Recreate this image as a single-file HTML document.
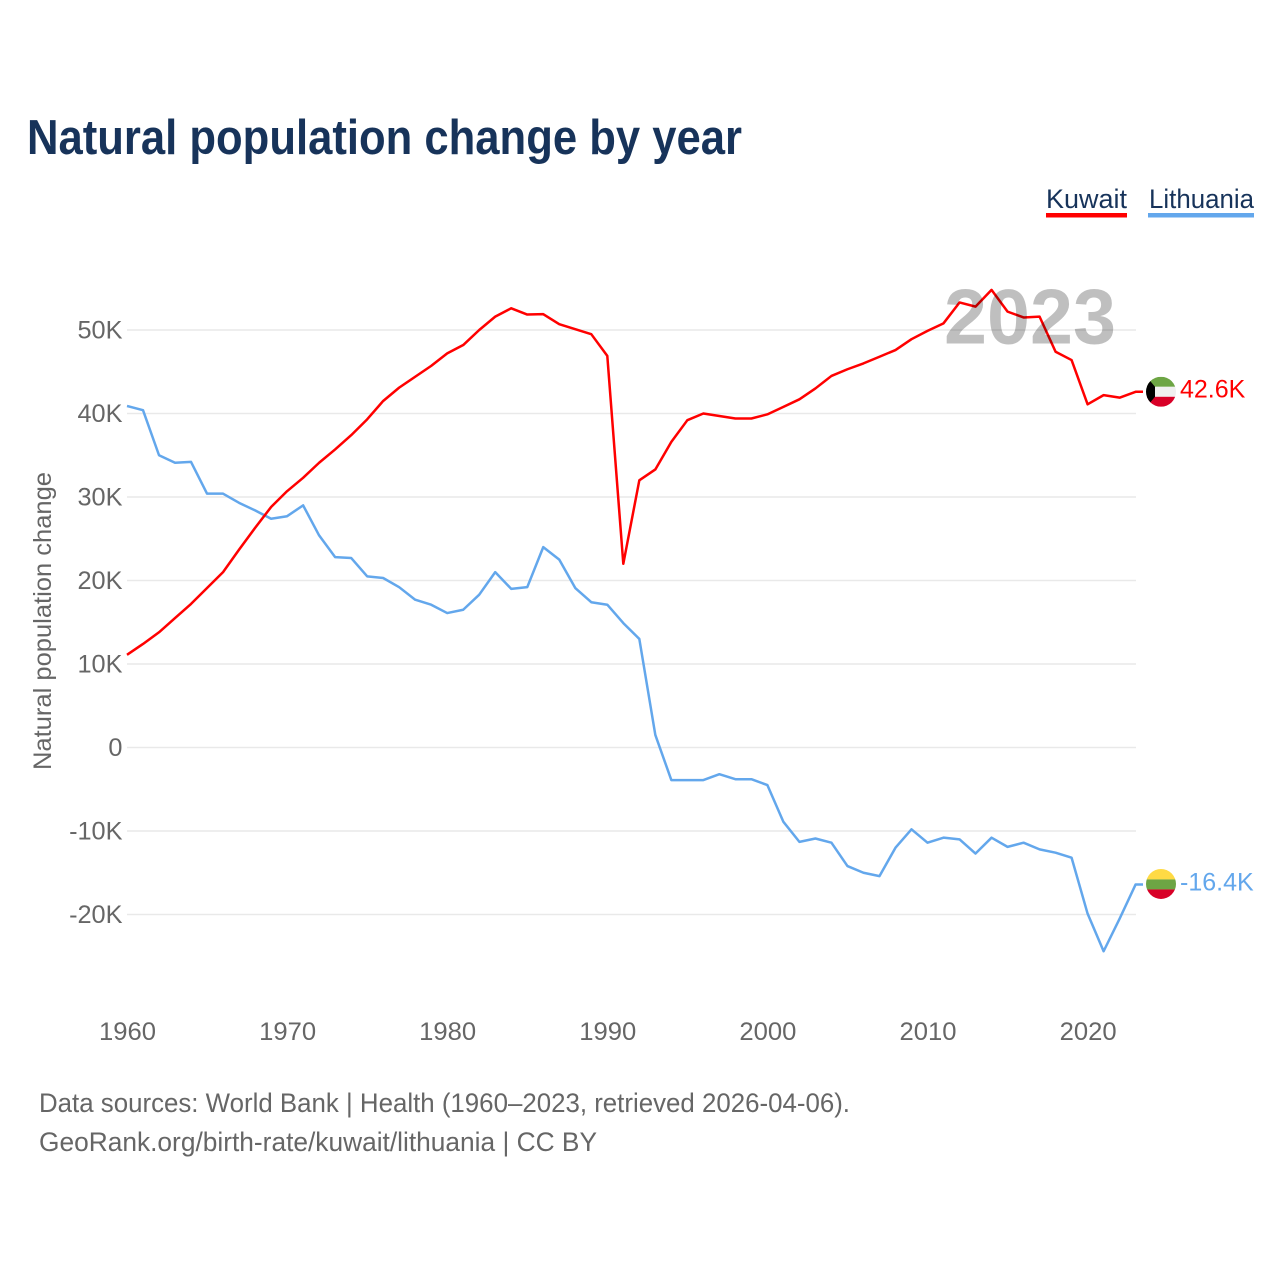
<!DOCTYPE html>
<html lang="en">
<head>
<meta charset="utf-8">
<title>Natural population change by year</title>
<style>
  html, body { margin: 0; padding: 0; background: #ffffff; }
  svg { display: block; font-family: "Liberation Sans", sans-serif; }
</style>
</head>
<body>
<svg id="chart" width="1280" height="1280" viewBox="0 0 1280 1280" xmlns="http://www.w3.org/2000/svg">
  <defs>
    <clipPath id="flag-clip-kw"><circle id="clip-kw" r="15"></circle></clipPath>
    <clipPath id="flag-clip-lt"><circle id="clip-lt" r="15"></circle></clipPath>
  </defs>
  <rect x="0" y="0" width="1280" height="1280" fill="#ffffff"></rect>
  <text x="27" y="154" font-size="49" font-weight="700" fill="#17335a" textLength="715" lengthAdjust="spacingAndGlyphs">Natural population change by year</text>

  <g>
    <g>
      <text x="1046" y="208" font-size="27" fill="#17335a" textLength="81" lengthAdjust="spacingAndGlyphs">Kuwait</text>
      <rect x="1046" y="213" width="81" height="4.5" fill="#ff0000"></rect>
    </g>
    <g>
      <text x="1149" y="208" font-size="27" fill="#17335a" textLength="105" lengthAdjust="spacingAndGlyphs">Lithuania</text>
      <rect x="1148" y="213" width="106" height="4.5" fill="#63a7ec"></rect>
    </g>
  </g>

  <text transform="translate(51,621) rotate(-90)" text-anchor="middle" font-size="25" fill="#666666" textLength="298" lengthAdjust="spacingAndGlyphs">Natural population change</text>

  <g id="grid"></g>
  <g id="y-ticks"></g>
  <g id="x-ticks"></g>
  <g id="series"></g>
  <g id="ends"></g>
  <text id="year-label" x="944" y="343.5" font-size="78" font-weight="700" fill="#000000" fill-opacity="0.25" textLength="172" lengthAdjust="spacingAndGlyphs"></text>

  <g>
    <text x="39" y="1112" font-size="27" fill="#666666" textLength="811" lengthAdjust="spacingAndGlyphs">Data sources: World Bank | Health (1960–2023, retrieved 2026-04-06).</text>
    <text x="39" y="1151" font-size="27" fill="#666666" textLength="558" lengthAdjust="spacingAndGlyphs">GeoRank.org/birth-rate/kuwait/lithuania | CC BY</text>
  </g>
</svg>

<script>
const startYear = 1960;
const kuwaitValues = [
  11.1, 12.4, 13.8, 15.5, 17.2, 19.1, 21.0, 23.7, 26.3, 28.8,
  30.7, 32.3, 34.1, 35.7, 37.4, 39.3, 41.5, 43.1, 44.4, 45.7,
  47.2, 48.2, 50.0, 51.6, 52.6, 51.85, 51.9, 50.7, 50.1, 49.5,
  46.9, 22.0, 32.0, 33.3, 36.6, 39.2, 40.0, 39.7, 39.4, 39.4,
  39.9, 40.8, 41.7, 43.0, 44.5, 45.3, 46.0, 46.8, 47.6, 48.9,
  49.9, 50.8, 53.3, 52.8, 54.8, 52.2, 51.5, 51.6, 47.4, 46.4,
  41.1, 42.2, 41.9, 42.6
];
const lithuaniaValues = [
  40.9, 40.4, 35.0, 34.1, 34.2, 30.4, 30.4, 29.3, 28.4, 27.4,
  27.7, 29.0, 25.4, 22.8, 22.7, 20.5, 20.3, 19.2, 17.7, 17.1,
  16.1, 16.5, 18.3, 21.0, 19.0, 19.2, 24.0, 22.5, 19.1, 17.4,
  17.1, 14.9, 13.0, 1.5, -3.9, -3.9, -3.9, -3.2, -3.8, -3.8,
  -4.5, -8.9, -11.3, -10.9, -11.4, -14.2, -15.0, -15.4, -12.0, -9.8,
  -11.4, -10.8, -11.0, -12.7, -10.8, -11.9, -11.4, -12.2, -12.6, -13.2,
  -19.9, -24.4, -20.5, -16.4
];
const yTickValues = [50, 40, 30, 20, 10, 0, -10, -20];
const xTickYears = [1960, 1970, 1980, 1990, 2000, 2010, 2020];

const NS = 'http://www.w3.org/2000/svg';
function xScale(year) { return 127 + (year - 1960) * 16.01; }
function yScale(value) { return 747.5 - value * 8.35; }
function make(tag, attrs, parent, text) {
  const el = document.createElementNS(NS, tag);
  for (const k in attrs) el.setAttribute(k, attrs[k]);
  if (text !== undefined) el.textContent = text;
  parent.appendChild(el);
  return el;
}
function formatTick(v) { return v === 0 ? '0' : v + 'K'; }

const gridGroup = document.getElementById('grid');
const yGroup = document.getElementById('y-ticks');
yTickValues.forEach(function (v) {
  const line = make('line', { x1: 127, x2: 1136, y1: yScale(v), y2: yScale(v), stroke: '#e9e9e9', 'stroke-width': 1.4 }, gridGroup);
  
  
  const label = make('text', { x: 122.5, y: yScale(v) + 8.5, 'text-anchor': 'end', 'font-size': 25.3, fill: '#666666' }, yGroup, formatTick(v));
  
  
});

const xGroup = document.getElementById('x-ticks');
xTickYears.forEach(function (yr) {
  const label = make('text', { x: xScale(yr) + 0.5, y: 1040, 'text-anchor': 'middle', 'font-size': 25, fill: '#666666', textLength: 57, lengthAdjust: 'spacingAndGlyphs' }, xGroup, String(yr));
  
  
});

const seriesGroup = document.getElementById('series');
const endGroup = document.getElementById('ends');
function linePoints(values) {
  const pts = values.map(function (v, i) { return xScale(startYear + i).toFixed(2) + ',' + yScale(v).toFixed(2); });
  const last = values[values.length - 1];
  pts.push('1143,' + yScale(last).toFixed(2));
  return pts.join(' ');
}

const lithuaniaLine = make('polyline', { points: linePoints(lithuaniaValues), fill: 'none', stroke: '#63a7ec', 'stroke-width': 2.5, 'stroke-linejoin': 'round' }, seriesGroup);


const kuwaitLine = make('polyline', { points: linePoints(kuwaitValues), fill: 'none', stroke: '#ff0000', 'stroke-width': 2.5, 'stroke-linejoin': 'round' }, seriesGroup);



function formatEnd(v) { return v.toFixed(1) + 'K'; }

/* Kuwait end marker */
const kwLast = kuwaitValues[kuwaitValues.length - 1];
const kwY = yScale(kwLast);
const clipKw = document.getElementById('clip-kw');
clipKw.setAttribute('cx', 1161);
clipKw.setAttribute('cy', kwY);
const kwFlag = make('g', { 'clip-path': 'url(#flag-clip-kw)' }, endGroup);


make('rect', { x: 1146, y: kwY - 15, width: 30, height: 10, fill: '#6da544' }, kwFlag);
make('rect', { x: 1146, y: kwY - 5, width: 30, height: 10, fill: '#f0f0f0' }, kwFlag);
make('rect', { x: 1146, y: kwY + 5, width: 30, height: 10, fill: '#d80027' }, kwFlag);
make('polygon', { points: '1146,' + (kwY - 15) + ' 1150,' + (kwY - 11) + ' 1155,' + (kwY - 5) + ' 1155,' + (kwY + 5) + ' 1150,' + (kwY + 11) + ' 1146,' + (kwY + 15), fill: '#000000' }, kwFlag);
const kwLabel = make('text', { x: 1180, y: kwY + 5.5, 'font-size': 25, fill: '#ff0000' }, endGroup, formatEnd(kwLast));



/* Lithuania end marker */
const ltLast = lithuaniaValues[lithuaniaValues.length - 1];
const ltY = yScale(ltLast);
const clipLt = document.getElementById('clip-lt');
clipLt.setAttribute('cx', 1161);
clipLt.setAttribute('cy', ltY - 0.5);
const ltFlag = make('g', { 'clip-path': 'url(#flag-clip-lt)' }, endGroup);


make('rect', { x: 1146, y: ltY - 15.5, width: 30, height: 10.5, fill: '#ffda44' }, ltFlag);
make('rect', { x: 1146, y: ltY - 5, width: 30, height: 10, fill: '#6da544' }, ltFlag);
make('rect', { x: 1146, y: ltY + 5, width: 30, height: 10, fill: '#d80027' }, ltFlag);
const ltLabel = make('text', { x: 1180, y: ltY + 6, 'font-size': 25, fill: '#63a7ec' }, endGroup, formatEnd(ltLast));



document.getElementById('year-label').textContent = String(startYear + kuwaitValues.length - 1);
</script>
</body>
</html>
